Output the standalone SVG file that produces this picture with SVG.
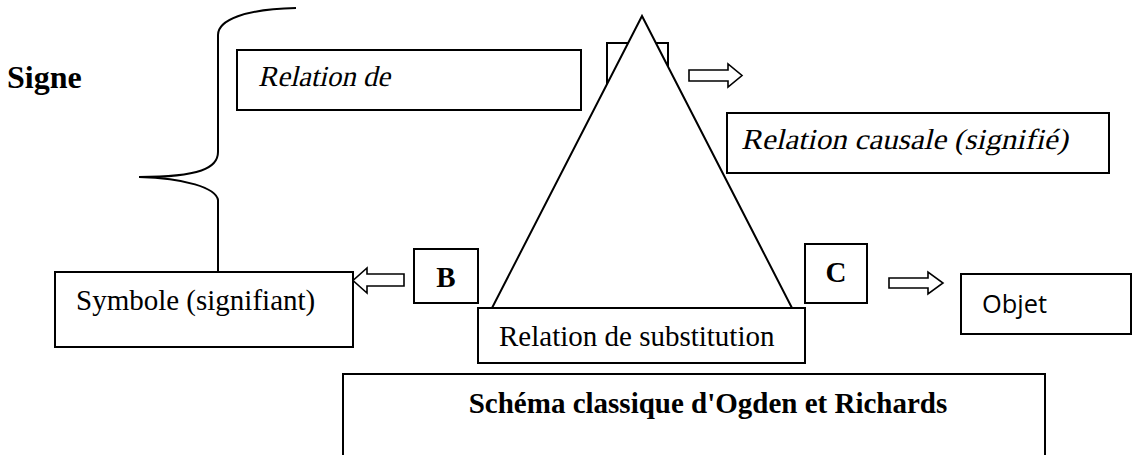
<svg xmlns="http://www.w3.org/2000/svg" width="1134" height="455" viewBox="0 0 1134 455">
<style>
.box{fill:#fff;stroke:#000;stroke-width:2}
.ln{fill:none;stroke:#000;stroke-width:2}
.arr{fill:#fff;stroke:#000;stroke-width:1.6;stroke-linejoin:miter}
.t{font-family:"Liberation Serif","DejaVu Serif",serif;font-size:29px;fill:#000}
.b{font-weight:bold}
.sans{font-family:"Open Sans","Liberation Sans",Arial,sans-serif;font-size:26px;fill:#000}
</style>
<rect width="1134" height="455" fill="#fff"/>
<g id="signe">
<text class="t b" x="7" y="88" style="font-size:32px">Signe</text>
</g>
<g id="connectors">
<path class="ln" d="M296 8 C245 9 218 20 218 35 L218 152 C218 168 200 177 139 177 M139 177 C185 178 216 188 218 200 L218 272"/>
<path class="arr" d="M689 70 H728 V64 L742 75.5 L728 87 V81 H689 Z"/>
<path class="arr" d="M404 274 H367 V268 L353 280.5 L367 293 V286 H404 Z"/>
<path class="arr" d="M889 278 H928 V272 L943 283 L928 294 V288 H889 Z"/>
</g>
<g id="relation-de">
<rect class="box" x="237" y="50" width="344" height="60"/>
<text class="t" transform="translate(258 86) skewX(-13)" x="0" y="0" textLength="132" lengthAdjust="spacingAndGlyphs">Relation de</text>
</g>
<g id="apex-box">
<rect class="box" x="607" y="43" width="61" height="57"/>
</g>
<g id="triangle">
<path d="M642 16 L492 308 L792 308 Z" fill="#fff" stroke="#000" stroke-width="2" stroke-linejoin="miter"/>
</g>
<g id="relation-causale">
<rect class="box" x="727" y="113" width="382" height="60"/>
<text class="t" transform="translate(741 149) skewX(-13)" x="0" y="0" textLength="327" lengthAdjust="spacingAndGlyphs">Relation causale (signifié)</text>
</g>
<g id="symbole">
<rect class="box" x="55" y="272" width="298" height="75"/>
<text class="t" x="76" y="310">Symbole (signifiant)</text>
</g>
<g id="B">
<rect class="box" x="414" y="249" width="64" height="54"/>
<text class="t b" x="446" y="287" text-anchor="middle">B</text>
</g>
<g id="C">
<rect class="box" x="805" y="244" width="62" height="59"/>
<text class="t b" x="836" y="282" text-anchor="middle">C</text>
</g>
<g id="objet">
<rect class="box" x="961" y="274" width="170" height="60"/>
<text class="sans" x="982" y="313" textLength="65" lengthAdjust="spacingAndGlyphs">Objet</text>
</g>
<g id="substitution">
<rect class="box" x="478" y="308" width="327" height="55"/>
<text class="t" x="499" y="346">Relation de substitution</text>
</g>
<g id="titre">
<path class="ln" d="M343 456 V374 H1045 V456"/>
<text class="t b" x="708" y="413" text-anchor="middle">Schéma classique d'Ogden et Richards</text>
</g>
</svg>
